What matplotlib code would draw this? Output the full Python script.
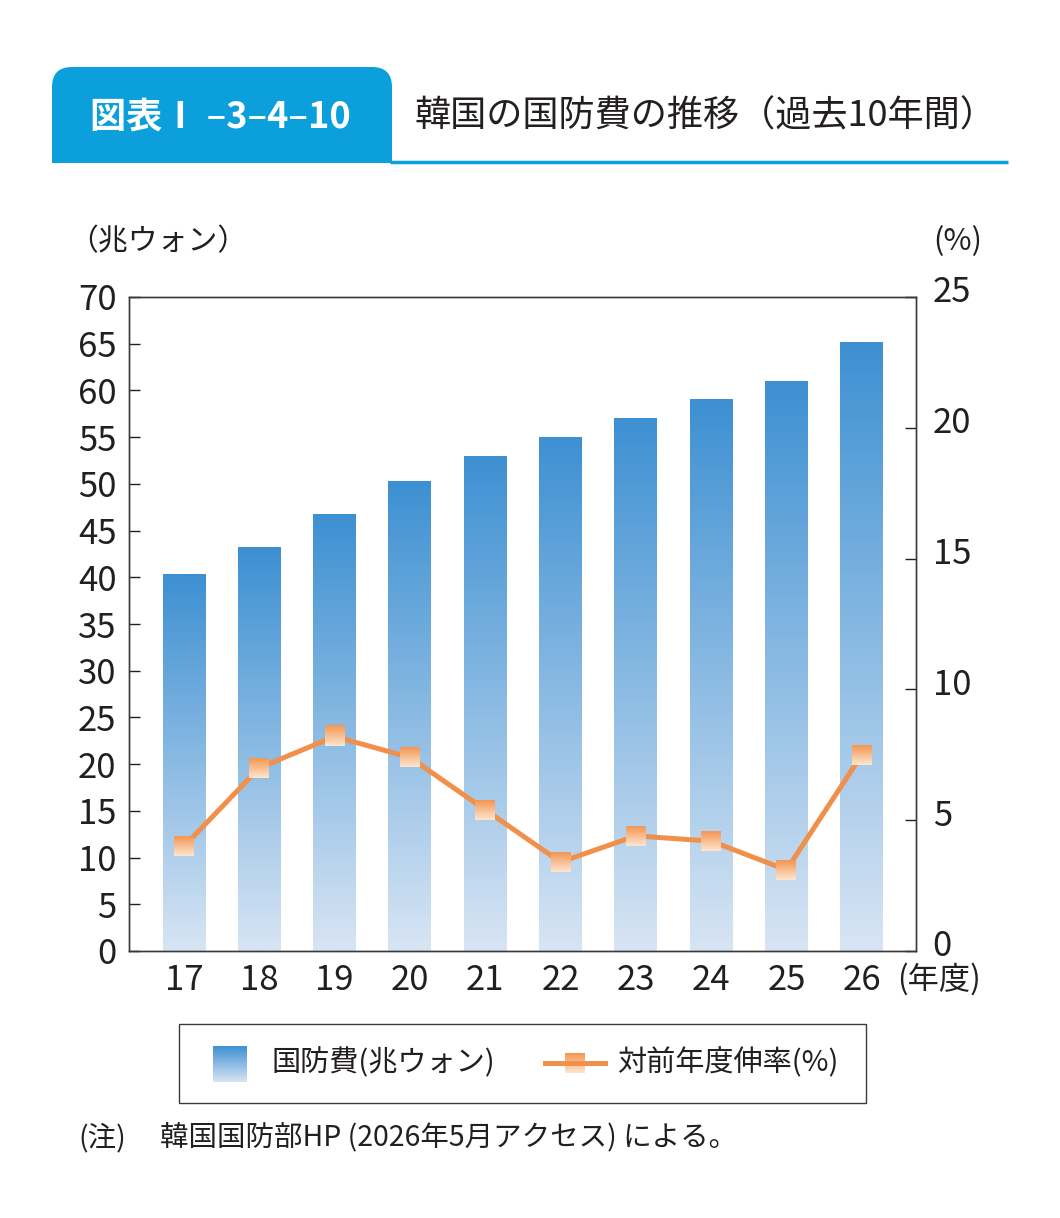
import numpy as np
import matplotlib
matplotlib.use('Agg')
import matplotlib.pyplot as plt
from matplotlib.patches import FancyBboxPatch, Rectangle
from matplotlib.colors import to_rgb
from matplotlib.transforms import ScaledTranslation

plt.rcParams['font.family'] = ['Noto Sans CJK JP', 'DejaVu Sans']

years = ['17', '18', '19', '20', '21', '22', '23', '24', '25', '26']
spending = [40.3, 43.2, 46.7, 50.2, 52.9, 55.0, 57.0, 59.0, 61.0, 65.1]   # 兆ウォン
growth = [4.0, 7.0, 8.2, 7.4, 5.4, 3.4, 4.4, 4.2, 3.1, 7.5]              # %

W, H = 1060, 1218
fig = plt.figure(figsize=(W / 100, H / 100), dpi=100)

BLUE_TOP, BLUE_BOT = '#3d90d2', '#d8e5f4'
OR_TOP, OR_BOT = '#f49650', '#fde6d2'
LINE_C = '#f0904a'
TXT = '#231f20'


def grad_img(c_bot, c_top, n=256):
    a, b = np.array(to_rgb(c_bot)), np.array(to_rgb(c_top))
    t = np.linspace(0, 1, n)[:, None]
    return (a + (b - a) * t).reshape(n, 1, 3)


bar_grad = grad_img(BLUE_BOT, BLUE_TOP)
mk_grad = grad_img(OR_BOT, OR_TOP)

# main axes
l, r, t, b = 129, 916, 297, 951
ax = fig.add_axes([l / W, 1 - b / H, (r - l) / W, (b - t) / H])
x = np.arange(len(years))
bw = 0.57
bars = ax.bar(x, spending, width=bw, color='none', edgecolor='none')
for xi, h in zip(x, spending):
    ax.imshow(bar_grad, extent=[xi - bw / 2, xi + bw / 2, 0, h], origin='lower',
              aspect='auto', zorder=1, interpolation='bilinear')
xlim = (-0.73, len(years) - 1 + 0.72)
ax.set_xlim(*xlim)
ax.set_ylim(0, 70)
ax.set_yticks(range(0, 71, 5))
ax.set_xticks(x)
ax.set_xticklabels(years)
ax.tick_params(axis='y', direction='in', length=8, width=1, pad=9,
               labelsize=25, colors=TXT)
ax.tick_params(axis='x', length=0, pad=9, labelsize=25, colors=TXT)
for s in ax.spines.values():
    s.set_color('#3a3a3a')
    s.set_linewidth(1)

ax2 = ax.twinx()
ax2.set_ylim(0, 25)
ax2.set_yticks(range(0, 26, 5))
ax2.tick_params(axis='y', direction='in', length=8, width=1, pad=12,
                labelsize=25, colors=TXT)
up = ScaledTranslation(0, 0.08, fig.dpi_scale_trans)
for lab in ax2.get_yticklabels():
    lab.set_transform(lab.get_transform() + up)
for s in ax2.spines.values():
    s.set_color('#3a3a3a')
    s.set_linewidth(1)
ax2.plot(x, growth, color=LINE_C, lw=3.6, zorder=2, solid_joinstyle='round')
# gradient square markers, ~20px
dx = 10 / ((r - l) / (xlim[1] - xlim[0]))
dy = 10 / ((b - t) / 25)
for xi, g in zip(x, growth):
    ax2.imshow(mk_grad, extent=[xi - dx, xi + dx, g - dy, g + dy], origin='lower',
               aspect='auto', zorder=3, interpolation='bilinear')
ax2.set_xlim(*xlim)
ax2.set_ylim(0, 25)

# overlay in pixel coordinates for header, labels, legend, note
ov = fig.add_axes([0, 0, 1, 1], zorder=5)
ov.set_xlim(0, W)
ov.set_ylim(H, 0)
ov.axis('off')
ov.patch.set_alpha(0)

TAB = '#0ba0dc'
ov.add_patch(FancyBboxPatch((52, 67), 340, 96, boxstyle='round,pad=0,rounding_size=20',
                            fc=TAB, ec='none'))
ov.add_patch(Rectangle((52, 120), 340, 43, fc=TAB, ec='none'))
ov.plot([390, 1008], [162, 162], color=TAB, lw=2.5, solid_capstyle='butt')
ov.text(90, 117, '図表Ⅰ –3–4–10', color='white', fontsize=26, fontweight='bold',
        va='center', ha='left')
ov.text(415, 117, '韓国の国防費の推移（過去10年間）', color=TXT, fontsize=26,
        va='center', ha='left')

ov.text(68, 242, '（兆ウォン）', color=TXT, fontsize=21.5, va='center', ha='left')
ov.text(982, 242, '(%)', color=TXT, fontsize=22, va='center', ha='right')
ov.text(897, 979, '(年度)', color=TXT, fontsize=22.5, va='center', ha='left')

# legend
ov.add_patch(Rectangle((179, 1024), 687, 79, fc='none', ec='#3a3a3a', lw=1))
ov.imshow(bar_grad, extent=[213, 247, 1082, 1046], origin='lower', aspect='auto',
          interpolation='bilinear')
ov.text(272, 1063, '国防費(兆ウォン)', color=TXT, fontsize=21, va='center', ha='left')
ov.plot([545, 605], [1063, 1063], color=LINE_C, lw=3.6)
ov.imshow(mk_grad, extent=[565, 585, 1073, 1053], origin='lower', aspect='auto',
          interpolation='bilinear')
ov.text(617, 1063, '対前年度伸率(%)', color=TXT, fontsize=21, va='center', ha='left')
ov.set_xlim(0, W)
ov.set_ylim(H, 0)

ov.text(78, 1138, '(注)', color=TXT, fontsize=20.5, va='center', ha='left')
ov.text(160, 1138, '韓国国防部HP (2026年5月アクセス) による。', color=TXT, fontsize=20.5,
        va='center', ha='left')

fig.savefig('out.png', dpi=100)
